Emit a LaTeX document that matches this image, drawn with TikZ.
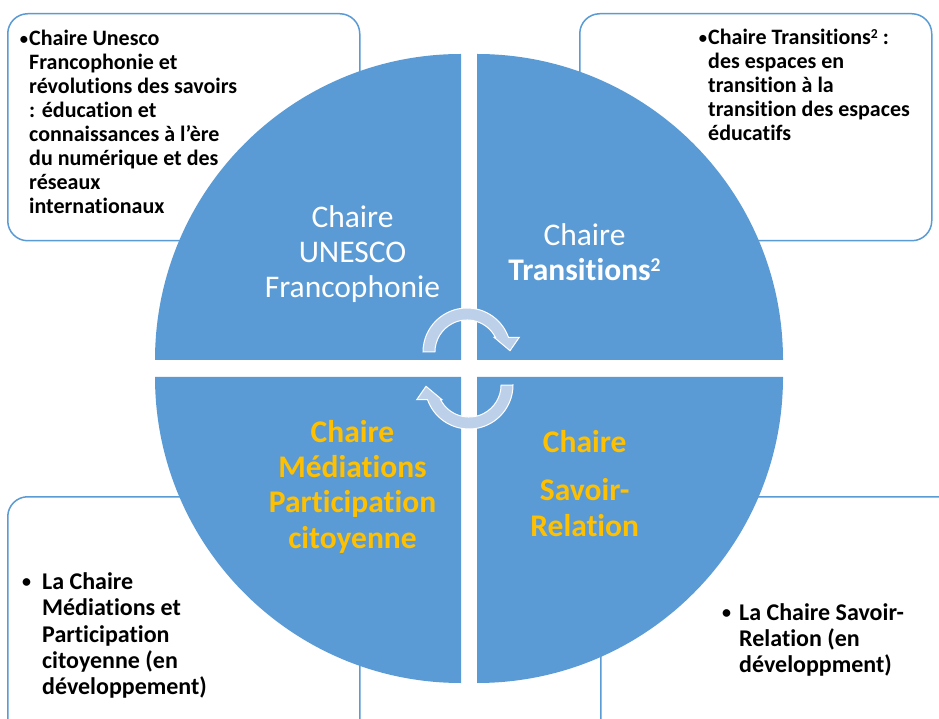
\documentclass[tikz,border=0pt]{standalone}
\usepackage{fontspec}
\setmainfont{Carlito}[Ligatures=NoCommon]
\definecolor{cblue}{HTML}{5B9BD5}
\definecolor{cyellow}{HTML}{FFC000}
\definecolor{carrow}{HTML}{BDD0EA}
\newcommand\mybul{\raisebox{0.07em}{\scalebox{0.75}{•}}}
\newcommand\mysup{\raisebox{0.3em}{\scalebox{0.62}{2}}}
\begin{document}
\begin{tikzpicture}[x=1pt,y=1pt,
  infobox/.style={draw=cblue, line width=1.5pt, fill=white, rounded corners=20pt, inner sep=0pt},
  quad/.style={fill=cblue},
  boxtext/.style={inner sep=0pt, align=left, text=black, font=\bfseries\fontsize{22}{24}\selectfont},
  boxtextb/.style={inner sep=0pt, align=left, text=black, font=\bfseries\fontsize{24}{26.25}\selectfont},
  circtext/.style={inner sep=0pt, align=center, text=white, font=\fontsize{31.5}{35.3}\selectfont},
  circbold/.style={inner sep=0pt, align=center, text=cyellow, font=\bfseries\fontsize{31.5}{35.3}\selectfont},
  cyclearrow/.style={fill=carrow, draw=white, line width=1pt, line join=miter}
]
\clip (0,0) rectangle (939,718);
\fill[white] (0,0) rectangle (939,718);

% corner boxes
\node[infobox, anchor=north west, minimum width=352pt, minimum height=227pt] (boxTL) at (7,705) {};
\node[infobox, anchor=north west, minimum width=352pt, minimum height=227pt] (boxTR) at (579,705) {};
\node[infobox, anchor=north west, minimum width=352pt, minimum height=245pt] (boxBL) at (7,222) {};
\node[infobox, anchor=north west, minimum width=360pt, minimum height=245pt] (boxBR) at (600,222) {};

% quadrants
\fill[quad] (461,358) -- (155,358) arc[start angle=180, end angle=90, radius=306] -- cycle;
\fill[quad] (477,358) -- (477,664) arc[start angle=90, end angle=0, radius=306] -- cycle;
\fill[quad] (461,341) -- (461,35) arc[start angle=270, end angle=180, radius=306] -- cycle;
\fill[quad] (477,341) -- (783,341) arc[start angle=0, end angle=-90, radius=306] -- cycle;

% box texts
\node[boxtext, anchor=west] (tTL) at (29,596) {\llap{\mybul\hspace{1pt}}Chaire Unesco\\Francophonie et\\révolutions des savoirs\\: éducation et\\connaissances à l’ère\\du numérique et des\\réseaux\\internationaux};
\node[boxtext, anchor=west] (tTR) at (708,633) {\llap{\mybul\hspace{1pt}}Chaire Transitions\mysup{} :\\des espaces en\\transition à la\\transition des espaces\\éducatifs};
\node[boxtextb, anchor=west] (tBL) at (42,82.5) {\llap{\mybul\hspace{11pt}}La Chaire\\Médiations et\\Participation\\citoyenne (en\\développement)};
\node[boxtextb, anchor=west] (tBR) at (739,78) {\llap{\mybul\hspace{8pt}}La Chaire Savoir-\\Relation (en\\développment)};

% circle texts
\node[circtext] (cTL) at (352.5,464) {Chaire\\UNESCO\\Francophonie};
\node[circtext] (cTR) at (584.5,466) {Chaire\\\textbf{Transitions\mysup}};
\node[circbold] (cBL) at (352.5,231.5) {Chaire\\Médiations\\Participation\\citoyenne};
\node[circbold] (cBR) at (584.7,234.5) {Chaire\\[13pt]Savoir-\\Relation};

% cycle arrows
\draw[cyclearrow] (423,366) arc[start angle=180, end angle=19.5, radius=44] -- (519.3,380.7) -- (510,367.3) -- (494,380.7) -- (495.4,380.7) arc[start angle=27.3, end angle=180, radius=32] -- cycle;
\draw[cyclearrow, rotate around={180:(468,349.5)}] (423,366) arc[start angle=180, end angle=19.5, radius=44] -- (519.3,380.7) -- (510,367.3) -- (494,380.7) -- (495.4,380.7) arc[start angle=27.3, end angle=180, radius=32] -- cycle;
\end{tikzpicture}
\end{document}
